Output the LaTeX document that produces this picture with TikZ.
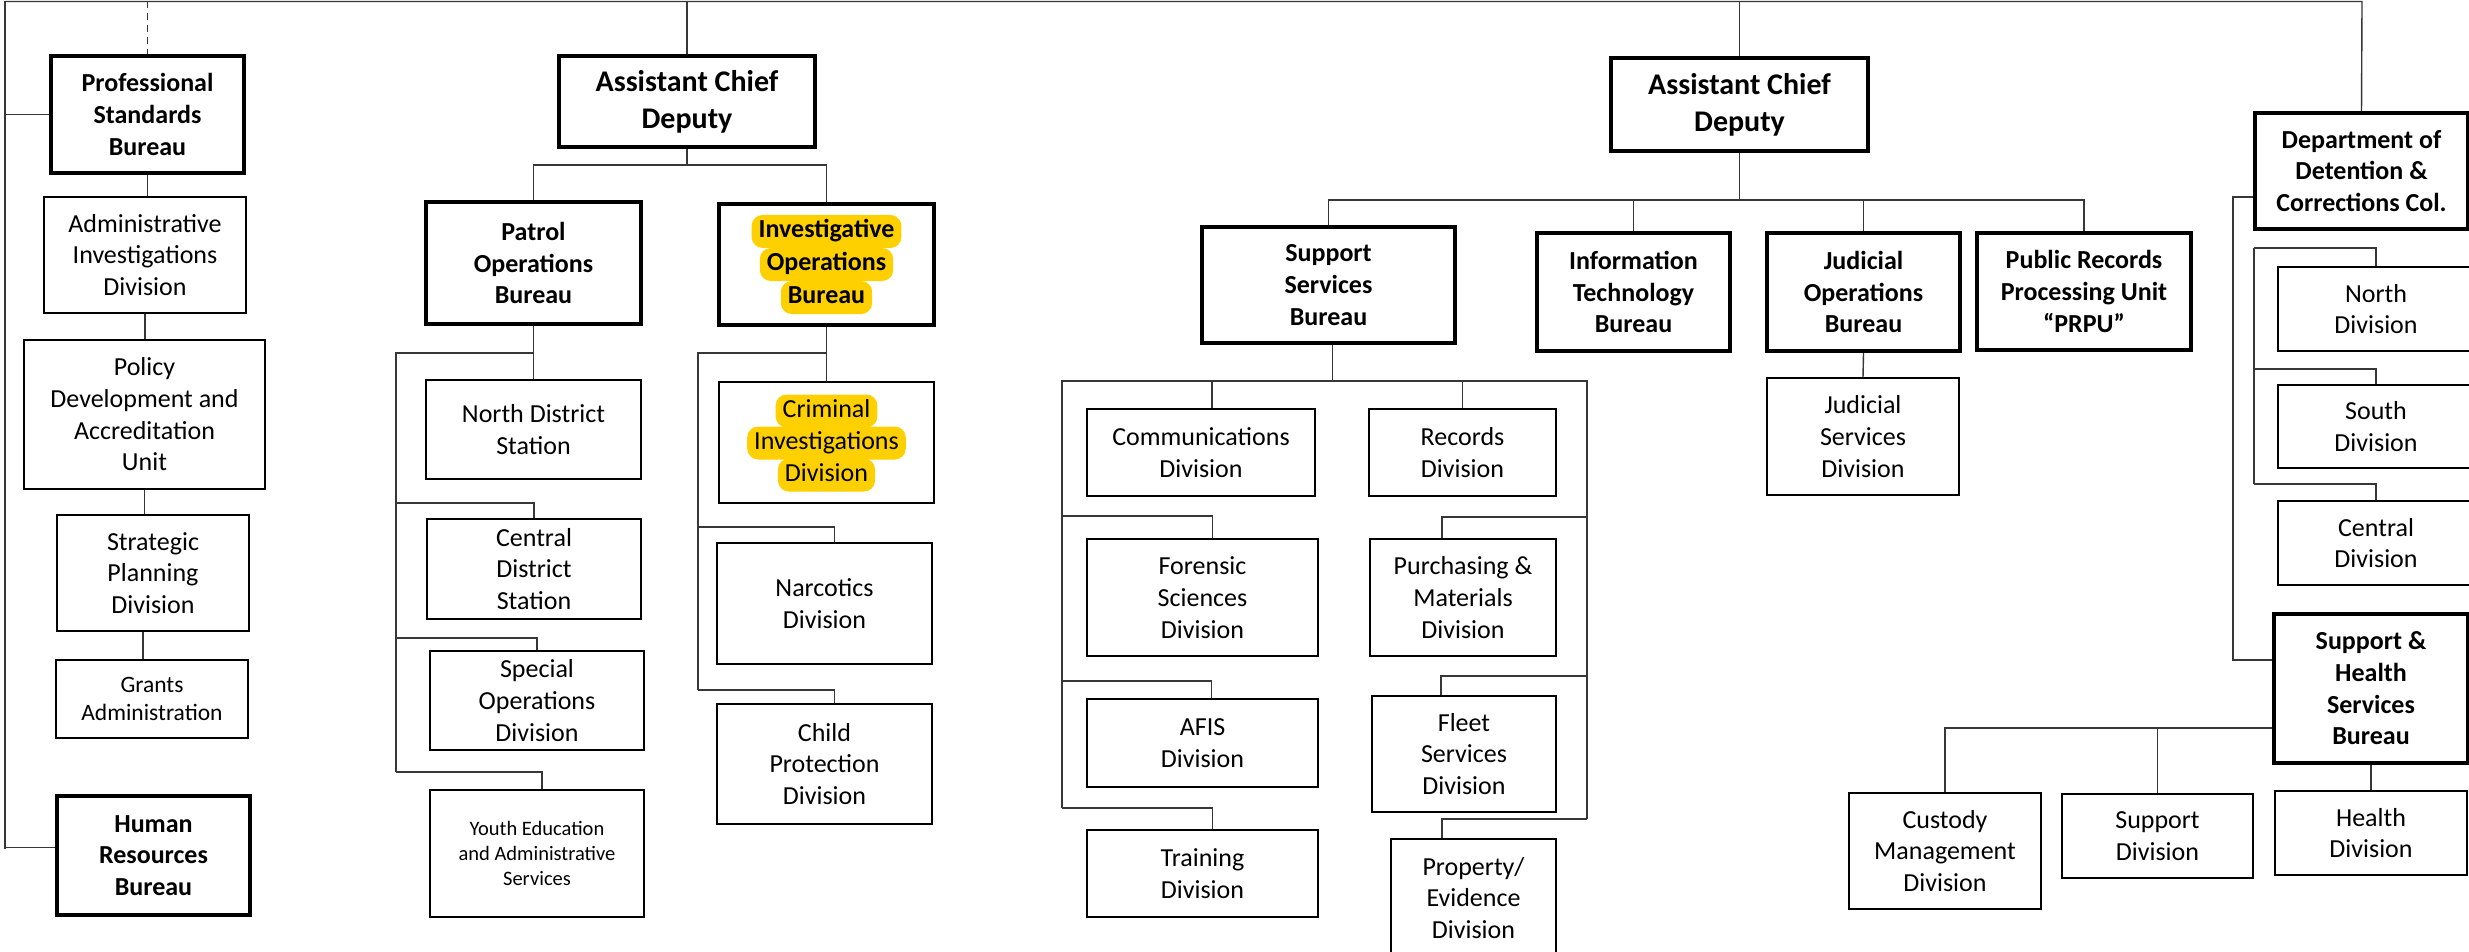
\documentclass[tikz,border=0pt]{standalone}
\usepackage{fontspec}
\setmainfont{Carlito}
\definecolor{hly}{RGB}{255,208,0}
\definecolor{connc}{RGB}{55,55,55}
\newcommand\fReg{\fontsize{26}{31.7}\selectfont}
\newcommand\fBld{\bfseries\fontsize{26}{31.7}\selectfont}
\newcommand\fBig{\bfseries\fontsize{30}{36.7}\selectfont}
\newcommand\fSml{\fontsize{20.5}{25}\selectfont}
\newcommand\fGr{\fontsize{23.5}{28.7}\selectfont}
\newcommand\obox[7]{\node[#1, minimum width={(#5-#3)*1pt}, minimum height={(#6-#4)*1pt}] (#2) at ({(#3+#5)/2},{(#4+#6)/2}) {#7};}
\tikzset{
  conn/.style={draw=connc, line width=1.4pt},
  thinbox/.style={draw=black, line width=2pt, align=center, inner sep=2pt, font=\fReg},
  thickbox/.style={draw=black, line width=4pt, align=center, inner sep=2pt, font=\fBld},
  hlb/.style={fill=hly, rounded corners=11pt, inner xsep=7pt, inner ysep=0pt, minimum height=33pt, text height=18pt, text depth=6pt},
}
\begin{document}
\begin{tikzpicture}[x=1pt,y=-1pt]
\useasboundingbox (0,0) rectangle (2469,952);
\clip (0,0) rectangle (2469,952);
\fill[white] (0,0) rectangle (2469,952);

% ---------- left column ----------
\obox{thickbox}{psb}{51}{56}{244}{173}{Professional\\Standards\\Bureau}
\obox{thinbox}{aid}{44}{197}{246}{313}{Administrative\\Investigations\\Division}
\obox{thinbox}{pdau}{24}{340}{265}{489}{Policy\\Development and\\Accreditation\\Unit}
\obox{thinbox}{spd}{57}{515}{249}{631}{Strategic\\Planning\\Division}
\obox{thinbox, font=\fGr}{ga}{56}{660}{248}{738}{Grants\\Administration}
\obox{thickbox}{hrb}{57}{796}{250}{915}{Human\\Resources\\Bureau}

% ---------- first assistant chief ----------
\obox{thickbox, font=\fBig}{acda}{559}{56}{815}{147}{Assistant Chief\\Deputy}
\obox{thickbox}{pob}{426}{202}{641}{324}{Patrol\\Operations\\Bureau}
\obox{thickbox}{iob}{719}{204}{934}{325}{}
\node[hlb, font=\fBld] (iobA) at (826.5,231.5) {Investigative};
\node[hlb, font=\fBld] (iobB) at (826.5,264.5) {Operations};
\node[hlb, font=\fBld] (iobC) at (826.5,297.5) {Bureau};
\obox{thinbox}{nds}{426}{380}{641}{479}{North District\\Station}
\obox{thinbox}{cds}{427}{519}{641}{619}{Central\\District\\Station}
\obox{thinbox}{sod}{430}{651}{644}{750}{Special\\Operations\\Division}
\obox{thinbox, font=\fSml}{yeas}{430}{790}{644}{917}{Youth Education\\and Administrative\\Services}
\obox{thinbox}{cid}{719}{382}{934}{503}{}
\node[hlb, font=\fReg] (cidA) at (826.5,411) {Criminal};
\node[hlb, font=\fReg] (cidB) at (826.5,443) {Investigations};
\node[hlb, font=\fReg] (cidC) at (826.5,475) {Division};
\obox{thinbox}{nar}{717}{543}{932}{664}{Narcotics\\Division}
\obox{thinbox}{cpd}{717}{704}{932}{824}{Child\\Protection\\Division}

% ---------- second assistant chief ----------
\obox{thickbox, font=\fBig}{acdb}{1611}{58}{1868}{151}{Assistant Chief\\Deputy}
\obox{thickbox}{ssb}{1202}{227}{1455}{343}{Support\\Services\\Bureau}
\obox{thickbox}{itb}{1537}{233}{1730}{351}{Information\\Technology\\Bureau}
\obox{thickbox}{job}{1767}{233}{1960}{351}{Judicial\\Operations\\Bureau}
\obox{thickbox}{prpu}{1977}{233}{2191}{350}{Public Records\\Processing Unit\\“PRPU”}
\obox{thinbox}{jsd}{1767}{378}{1959}{495}{Judicial\\Services\\Division}
\obox{thinbox}{comm}{1087}{409}{1315}{496}{Communications\\Division}
\obox{thinbox}{fsd}{1087}{539}{1318}{656}{Forensic\\Sciences\\Division}
\obox{thinbox}{afis}{1087}{699}{1318}{787}{AFIS\\Division}
\obox{thinbox}{trd}{1087}{830}{1318}{917}{Training\\Division}
\obox{thinbox}{rd}{1369}{409}{1556}{496}{Records\\Division}
\obox{thinbox}{pmd}{1370}{539}{1556}{656}{Purchasing \&\\Materials\\Division}
\obox{thinbox}{flt}{1372}{696}{1556}{812}{Fleet\\Services\\Division}
\obox{thinbox}{ped}{1391}{839}{1556}{957}{Property/\\Evidence\\Division}

% ---------- detention ----------
\obox{thickbox}{ddc}{2255}{113}{2468}{229}{Department of\\Detention \&\\Corrections Col.}
\obox{thinbox}{ndiv}{2278}{267}{2474}{351}{North\\Division}
\obox{thinbox}{sdiv}{2278}{385}{2474}{468}{South\\Division}
\obox{thinbox}{cdiv}{2278}{501}{2474}{585}{Central\\Division}
\obox{thickbox}{shsb}{2274}{614}{2468}{763}{Support \&\\Health\\Services\\Bureau}
\obox{thinbox}{cmd}{1849}{793}{2041}{909}{Custody\\Management\\Division}
\obox{thinbox}{supd}{2062}{794}{2253}{878}{Support\\Division}
\obox{thinbox}{hd}{2275}{791}{2467}{875}{Health\\Division}

% ---------- connectors ----------
\coordinate (topL) at (5,1.5);
\coordinate (topR) at (2362,1.5);
\draw[conn] (topL) -- (topR) -- (ddc.north);
\coordinate (botL) at (5,849);
\draw[conn] (topL) -- (botL);
\draw[conn] ([yshift=8pt]hrb.west -| topL) -- ([yshift=8pt]hrb.west);
\draw[conn] (psb.west -| topL) -- (psb.west);
\draw[conn, dash pattern=on 7pt off 5pt] (psb.north |- topL) -- (psb.north);
\draw[conn] (psb.south) -- (psb.south |- aid.north);
\draw[conn] (aid.south) -- (aid.south |- pdau.north);
\draw[conn] (pdau.south) -- (pdau.south |- spd.north);
\draw[conn] ([xshift=-10pt]spd.south) -- ([xshift=-10pt]spd.south |- ga.north);

% first ACD
\draw[conn] (acda.north |- topL) -- (acda.north);
\draw[conn] (acda.south) -- ++(0,16) coordinate (acdaj) -| (pob.north);
\draw[conn] (acdaj) -| (iob.north);
\coordinate (pb1) at (396,353); \coordinate (pb2) at (396,503);
\coordinate (pb3) at (396,638); \coordinate (pb4) at (396,772);
\draw[conn] (pob.south) -- (nds.north);
\draw[conn] (pob.south |- pb1) -- (pb1) -- (pb4);
\draw[conn] (pb2) -| (cds.north);
\draw[conn] (pb3) -| (sod.north);
\draw[conn] (pb4) -| ([xshift=5pt]yeas.north);
\coordinate (ib1) at (698,353); \coordinate (ib2) at (698,527); \coordinate (ib3) at (698,690);
\draw[conn] (iob.south) -- (cid.north);
\draw[conn] (iob.south |- ib1) -- (ib1) -- (ib3);
\draw[conn] (ib2) -| ([xshift=10pt]nar.north);
\draw[conn] (ib3) -| ([xshift=10pt]cpd.north);

% second ACD
\draw[conn] (acdb.north |- topL) -- (acdb.north);
\draw[conn] (acdb.south) -- ++(0,47) coordinate (acdbj);
\draw[conn] (ssb.north) |- (prpu.north |- acdbj) -- (prpu.north);
\draw[conn] (itb.north) -- (itb.north |- acdbj);
\draw[conn] (job.north) -- (job.north |- acdbj);
\draw[conn] (job.south) -- (jsd.north);
\coordinate (sbL) at (1062,381); \coordinate (sbR) at (1587,381);
\coordinate (sl2) at (1062,516); \coordinate (sl3) at (1062,681); \coordinate (sl4) at (1062,808);
\coordinate (sr2) at (1587,517); \coordinate (sr3) at (1587,676); \coordinate (sr4) at (1587,819);
\draw[conn] ([xshift=4pt]ssb.south) -- ([xshift=4pt]ssb.south |- sbL);
\draw[conn] (sl4) -- (sbL) -- (sbR) -- (sr4);
\draw[conn] ([xshift=11pt]comm.north) -- ([xshift=11pt]comm.north |- sbL);
\draw[conn] (sl2) -| ([xshift=10pt]fsd.north);
\draw[conn] (sl3) -| ([xshift=9pt]afis.north);
\draw[conn] (sl4) -| ([xshift=10pt]trd.north);
\draw[conn] (rd.north) -- (rd.north |- sbR);
\draw[conn] (sr2) -| ([xshift=-21pt]pmd.north);
\draw[conn] (sr3) -| ([xshift=-23pt]flt.north);
\draw[conn] (sr4) -| ([xshift=-31.5pt]ped.north);

% detention
\coordinate (dl1) at (2233,197); \coordinate (dl2) at (2233,660);
\draw[conn] (ddc.west |- dl1) -- (dl1) -- (dl2) -- (shsb.west |- dl2);
\coordinate (di1) at (2254,248); \coordinate (di2) at (2254,369); \coordinate (di3) at (2254,484);
\draw[conn] (di1) -- (di3);
\draw[conn] (di1) -| (ndiv.north);
\draw[conn] (di2) -| (sdiv.north);
\draw[conn] (di3) -| (cdiv.north);
\coordinate (shj) at (2272,728);
\draw[conn] (shsb.west |- shj) -| (cmd.north);
\draw[conn] (supd.north) -- (supd.north |- shj);
\draw[conn] (shsb.south) -- (hd.north);
\end{tikzpicture}
\end{document}
